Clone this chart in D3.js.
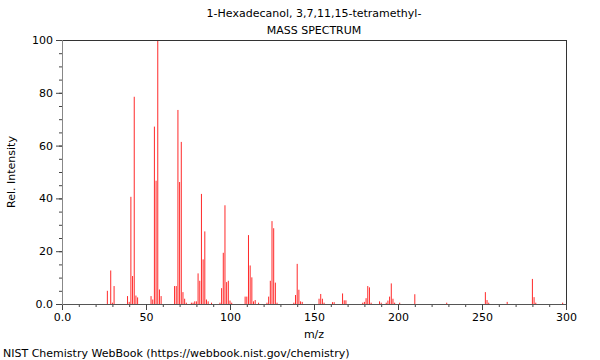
<!DOCTYPE html>
<html>
<head>
<meta charset="utf-8">
<script src="https://cdn.jsdelivr.net/npm/d3@7"></script>
<style>
  html, body { margin: 0; padding: 0; background: #fff; }
  svg { display: block; font-family: "DejaVu Sans", sans-serif; }
</style>
</head>
<body>
<svg id="chart" width="600" height="360"></svg>
<script>
const titleLines = ["1-Hexadecanol, 3,7,11,15-tetramethyl-", "MASS SPECTRUM"];
const xLabel = "m/z";
const yLabel = "Rel. Intensity";
const footnote = "NIST Chemistry WebBook (https://webbook.nist.gov/chemistry)";

const mz = [27, 29, 30, 31, 39, 40, 41, 42, 43, 44, 45, 53, 54, 55, 56, 57, 58, 59,
  67, 68, 69, 70, 71, 72, 73, 74, 77, 78, 79, 80, 81, 82, 83, 84, 85, 86, 87, 89,
  94, 95, 96, 97, 98, 99, 100, 101, 109, 110, 111, 112, 113, 114, 115, 117, 122,
  123, 124, 125, 126, 127, 128, 138, 139, 140, 141, 142, 143, 153, 154, 155, 156,
  161, 162, 167, 168, 169, 179, 180, 181, 182, 183, 184, 189, 190, 193, 194, 195,
  196, 197, 198, 201, 210, 229, 252, 253, 254, 265, 280, 281, 282, 298];
const intensity = [5, 12.7, 0.5, 6.8, 3, 0.8, 40.6, 10.6, 78.5, 3.2, 2.5, 3, 1.7, 67.2, 46.7, 100, 5.5, 3,
  6.8, 6.8, 73.5, 46.2, 61.4, 4.5, 2, 0.5, 0.5, 0.5, 1, 1, 11.6, 8.8, 41.7, 16.9, 27.5, 1.7, 1, 0.5,
  0.5, 6, 19.4, 37.4, 8.3, 8.8, 1.3, 0.5, 2.8, 2.8, 26.1, 14.6, 10.1, 1, 1.5, 0.5, 0.5,
  2.8, 8.8, 31.4, 28.7, 8.1, 0.5, 0.5, 3.4, 15.2, 5.4, 1, 0.8, 2, 3.8, 2, 0.5,
  0.7, 0.7, 4, 1.4, 1.4, 0.5, 0.8, 2.2, 6.8, 6.3, 0.5, 1, 0.5, 0.5, 1.3, 2.8,
  7.8, 2, 0.5, 0.5, 3.7, 0.5, 4.5, 1.5, 0.5, 0.8, 9.5, 2.6, 0.5, 0.5];

const xMajorTicks = [0, 50, 100, 150, 200, 250, 300];
const xTickLabels = ["0.0", "50", "100", "150", "200", "250", "300"];
const yMajorTicks = [0, 20, 40, 60, 80, 100];
const yTickLabels = ["0.0", "20", "40", "60", "80", "100"];

const svg = d3.select("#chart");
const L = 62, R = 566, T = 40, B = 304;
const x = d3.scaleLinear().domain([0, 300]).range([L, R]);
const y = d3.scaleLinear().domain([0, 100]).range([B, T]);

// bars
const peaks = mz.map((m, i) => ({ m, v: intensity[i] }));
svg.append("g").selectAll("rect").data(peaks).join("rect")
  .attr("x", d => x(d.m) - 0.5)
  .attr("width", 1)
  .attr("y", d => y(d.v))
  .attr("height", d => y(0) - y(d.v))
  .attr("fill", "#ff2a2a");

// frame top & right
svg.append("line").attr("x1", L).attr("x2", R).attr("y1", T).attr("y2", T)
  .attr("stroke", "#333").attr("stroke-width", 1).attr("shape-rendering", "crispEdges");
svg.append("line").attr("x1", R).attr("x2", R).attr("y1", T).attr("y2", B)
  .attr("stroke", "#333").attr("stroke-width", 1).attr("shape-rendering", "crispEdges");

// x axis
const xAxisMinor = d3.axisBottom(x).tickValues(d3.range(0, 301, 10)).tickSize(3).tickFormat("");
const xAxisMajor = d3.axisBottom(x).tickValues(xMajorTicks).tickSize(6)
  .tickFormat((d, i) => xTickLabels[i]).tickPadding(3);
const gxm = svg.append("g").attr("transform", `translate(0,${B})`).call(xAxisMinor);
const gx = svg.append("g").attr("transform", `translate(0,${B})`).call(xAxisMajor);
[gxm, gx].forEach(g => {
  g.select(".domain").attr("stroke", "#555");
  g.selectAll(".tick line").attr("stroke", "#444");
});
gx.selectAll("text").attr("font-size", 11).attr("fill", "#000").attr("font-family", "DejaVu Sans");

// y axis
const yAxisMinor = d3.axisLeft(y).tickValues(d3.range(0, 101, 5)).tickSize(3).tickFormat("");
const yAxisMajor = d3.axisLeft(y).tickValues(yMajorTicks).tickSize(6)
  .tickFormat((d, i) => yTickLabels[i]).tickPadding(3);
const gym = svg.append("g").attr("transform", `translate(${L},0)`).call(yAxisMinor);
const gy = svg.append("g").attr("transform", `translate(${L},0)`).call(yAxisMajor);
[gym, gy].forEach(g => {
  g.select(".domain").attr("stroke", "#888");
  g.selectAll(".tick line").attr("stroke", "#444");
});
gy.selectAll("text").attr("font-size", 11).attr("fill", "#000").attr("font-family", "DejaVu Sans");

// titles
svg.append("text").attr("x", (L + R) / 2).attr("y", 17).attr("text-anchor", "middle")
  .attr("font-size", 11).text(titleLines[0]);
svg.append("text").attr("x", (L + R) / 2).attr("y", 34).attr("text-anchor", "middle")
  .attr("font-size", 11).text(titleLines[1]);

// axis labels
svg.append("text").attr("x", (L + R) / 2).attr("y", 338).attr("text-anchor", "middle")
  .attr("font-size", 11).text(xLabel);
svg.append("text").attr("transform", `translate(15,${(T + B) / 2}) rotate(-90)`)
  .attr("text-anchor", "middle").attr("font-size", 11).text(yLabel);

// footnote
svg.append("text").attr("x", 3).attr("y", 357).attr("font-size", 11).text(footnote);
</script>
</body>
</html>
